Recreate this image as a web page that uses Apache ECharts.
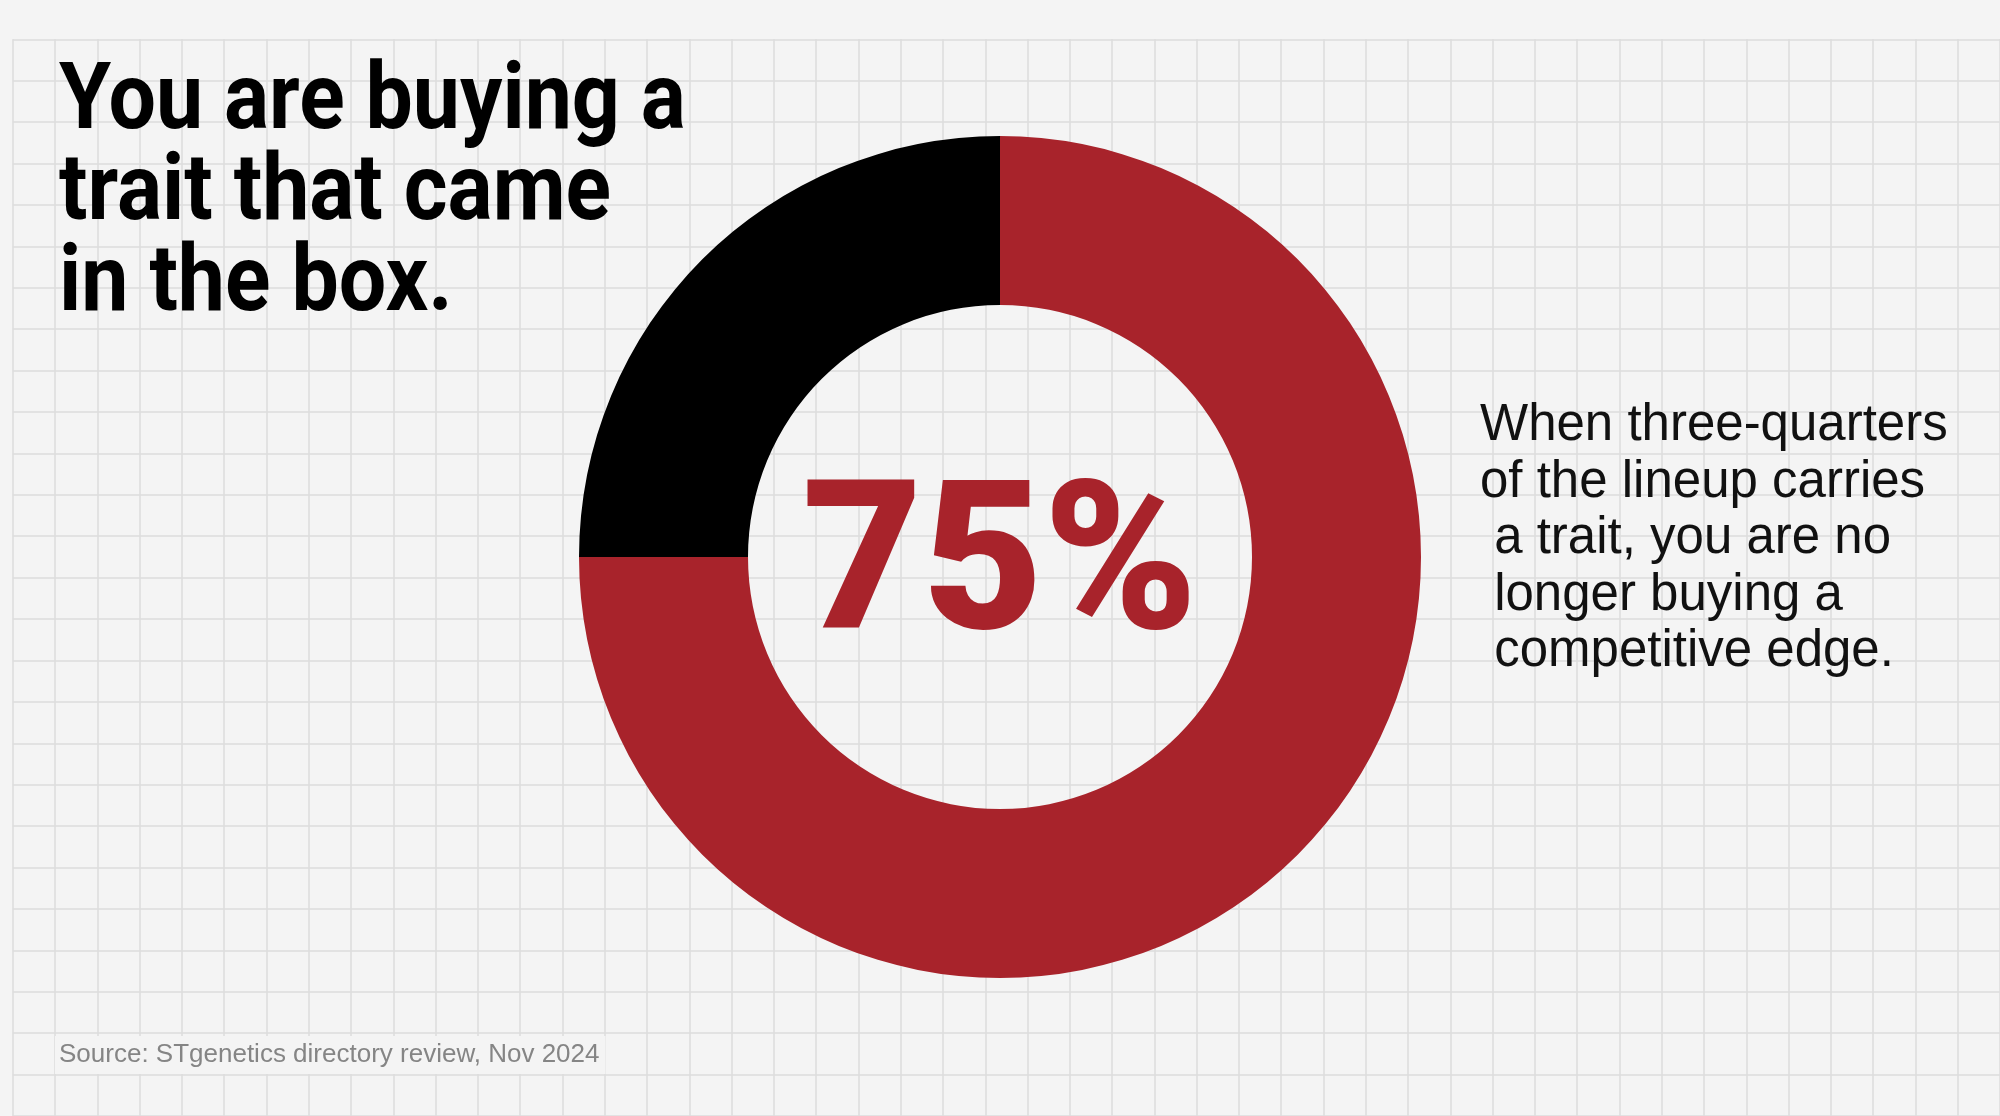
<!DOCTYPE html>
<html lang="en">
<head>
    <meta charset="UTF-8">
    <title>Trait share</title>
    <style>
        html, body { margin: 0; padding: 0; background: #f4f4f4; }
    </style>
</head>
<body>
<div id="main" style="width: 2000px;height:1116px;"></div>
<script type="text/javascript" src="https://cdn.jsdelivr.net/npm/echarts@6/dist/echarts.min.js"></script>
<script type="text/javascript">

    // data
    var segments = ['Carries the trait', 'Does not'];
    var shares = [75, 25];
    var segmentColors = ['#a8232b', '#000000'];

    var headline = ['You are buying a', 'trait that came', 'in the box.'];
    var note = ['When three-quarters', 'of the lineup carries', ' a trait, you are no', ' longer buying a', ' competitive edge.'];
    var source = 'Source: STgenetics directory review, Nov 2024';

    // background paper grid: count of cells
    var gridCols = 47;
    var gridRows = 26;

    var myChart = echarts.init(document.getElementById("main"));

    var pieData = segments.map(function (name, i) {
        return {
            name: name,
            value: shares[i],
            itemStyle: { color: segmentColors[i] },
            label: { show: i === 0 }
        };
    });

    myChart.setOption({
        backgroundColor: '#f4f4f4',
        animation: false,
        // headline is squeezed a little to look like a condensed face
        graphic: [
            {
                type: 'text',
                x: 59,
                y: 59,
                z: 100,
                scaleX: 0.915,
                silent: true,
                style: {
                    text: headline.join('\n'),
                    fontFamily: 'Roboto, sans-serif',
                    fontWeight: 'bold',
                    fontSize: 92,
                    lineHeight: 91,
                    verticalAlign: 'top',
                    fill: '#000'
                }
            }
        ],
        title: [
            {
                text: note.join('\n'),
                left: 1480,
                top: 398,
                padding: 0,
                textStyle: {
                    fontFamily: '"Liberation Sans", sans-serif',
                    fontWeight: 'normal',
                    fontSize: 51,
                    lineHeight: 56.5,
                    color: '#111'
                }
            },
            {
                text: source,
                left: 55,
                top: 1036,
                padding: [4, 6, 4, 4],
                backgroundColor: '#f4f4f4',
                textStyle: {
                    fontFamily: '"Liberation Sans", sans-serif',
                    fontWeight: 'normal',
                    fontSize: 26,
                    lineHeight: 30,
                    color: '#858585'
                }
            }
        ],
        grid: {
            left: 12.8,
            top: 39.3,
            width: gridCols * 42.9,
            height: gridRows * 42.8
        },
        xAxis: {
            type: 'value',
            min: 0,
            max: gridCols,
            interval: 1,
            axisLine: { show: false },
            axisTick: { show: false },
            axisLabel: { show: false },
            splitLine: { show: true, lineStyle: { color: '#dcdcdc', width: 1.5 } }
        },
        yAxis: {
            type: 'value',
            min: 0,
            max: gridRows,
            interval: 1,
            axisLine: { show: false },
            axisTick: { show: false },
            axisLabel: { show: false },
            splitLine: { show: true, lineStyle: { color: '#dcdcdc', width: 1.5 } }
        },
        series: [
            {
                name: 'lineup',
                type: 'pie',
                center: [1000, 557],
                radius: [252, 421],
                startAngle: 90,
                clockwise: true,
                silent: true,
                avoidLabelOverlap: false,
                labelLine: { show: false },
                label: {
                    position: 'center',
                    // empty first line nudges the figure down onto the ring's centre
                    formatter: function (p) { return '\n' + p.value + '%'; },
                    fontFamily: '"Roboto", sans-serif',
                    fontWeight: 900,
                    fontSize: 208,
                    lineHeight: 38,
                    color: '#a8232b'
                },
                emphasis: { disabled: true },
                data: pieData
            }
        ]
    });
</script>
</body>
</html>
